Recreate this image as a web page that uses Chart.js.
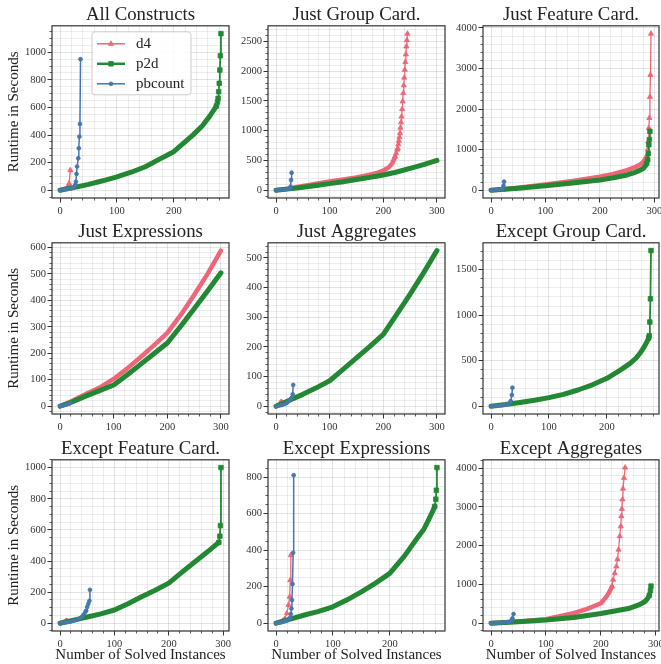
<!DOCTYPE html>
<html>
<head>
<meta charset="utf-8">
<script src="https://cdn.jsdelivr.net/npm/chart.js@4.4.1/dist/chart.umd.min.js"></script>
<style>
  body { margin: 0; background: #fff; }
  #fig { position: relative; width: 661px; height: 664px; overflow: hidden; background: #fff; }
  #fig canvas { position: absolute; }
</style>
</head>
<body>
<div id="fig"></div>
<script>
// ---- data: [solved instances, runtime in s] ----
const solvers = ['d4', 'p2d', 'pbcount'];
const titles = ['All Constructs', 'Just Group Card.', 'Just Feature Card.',
                'Just Expressions', 'Just Aggregates', 'Except Group Card.',
                'Except Feature Card.', 'Except Expressions', 'Except Aggregates'];
const yMajor = [200, 500, 1000, 100, 100, 500, 200, 200, 1000];
const yMinor = [50, 100, 200, 20, 20, 100, 50, 50, 200];
const xMajor = 100;
const xMinor = 20;

const allD4 = [[0, 0], [5, 4], [10, 10], [13, 17], [15, 28], [16, 49], [18, 145]];
const allP2d = [[0, 0], [10, 8], [20, 16], [30, 24], [50, 42], [75, 68], [100, 97], [125, 130], [150, 170], [175, 225], [200, 279], [234, 401], [250, 465], [263, 535], [270, 578], [275, 611], [277, 640], [278, 666], [279, 714], [280, 775], [281, 871], [282, 975], [283, 1135]];
const allPb = [[0, 0], [5, 3], [10, 6], [15, 9], [20, 13], [24, 20], [26, 30], [27, 40], [28, 62], [29, 118], [30, 171], [32, 231], [33, 304], [34, 388], [35, 480], [36, 950]];

const gcD4 = [[0, 0], [25, 30], [50, 70], [75, 110], [100, 148], [125, 180], [150, 215], [175, 260], [190, 295], [200, 330], [205, 355], [210, 385], [214, 420], [217, 460], [220, 520], [222, 563], [224, 620], [226, 680], [227, 705], [228, 770], [229, 830], [230, 890], [231, 957], [232, 1050], [233, 1140], [234, 1236], [235, 1360], [236, 1490], [237, 1630], [238, 1760], [239, 1890], [240, 2022], [241, 2150], [242, 2280], [243, 2414], [244, 2520], [245, 2630]];
const gcP2d = [[0, 0], [25, 22], [50, 48], [75, 78], [100, 110], [125, 142], [150, 178], [175, 215], [200, 255], [225, 305], [250, 365], [275, 430], [300, 500]];
const gcPb = [[0, 0], [10, 5], [20, 15], [26, 28], [27, 60], [28, 172], [29, 294]];

const fcD4 = [[0, 0], [25, 25], [50, 60], [100, 140], [150, 225], [200, 330], [225, 400], [250, 495], [265, 570], [275, 640], [280, 700], [284, 780], [286, 850], [288, 1000], [289, 1200], [290, 1530], [291, 1780], [292, 2300], [293, 2840], [294, 3860]];
const fcP2d = [[0, 0], [25, 20], [50, 45], [100, 107], [150, 175], [200, 250], [225, 305], [250, 375], [265, 440], [275, 500], [280, 540], [284, 600], [286, 660], [288, 750], [289, 900], [290, 1120], [291, 1250], [292, 1450]];
const fcPb = [[0, 0], [10, 8], [18, 20], [21, 40], [23, 110], [24, 210]];

const jeD4 = [[0, 0], [20, 18], [50, 48], [75, 72], [100, 103], [125, 142], [150, 185], [175, 230], [200, 277], [225, 345], [250, 420], [275, 500], [300, 588]];
const jeP2d = [[0, 0], [20, 14], [50, 40], [75, 60], [100, 80], [125, 118], [150, 158], [175, 198], [200, 239], [225, 302], [250, 368], [275, 435], [300, 504]];
const jePb = [[0, 0], [10, 5], [20, 12]];

const jaD4 = [[0, 0], [4, 4], [8, 9], [10, 16]];
const jaP2d = [[0, 0], [25, 20], [50, 40], [75, 62], [100, 86], [125, 124], [150, 163], [175, 202], [200, 242], [225, 310], [250, 378], [275, 450], [300, 525]];
const jaPb = [[0, 0], [10, 3], [20, 10], [29, 28], [31, 40], [32, 72]];

const egcD4 = [];
const egcP2d = [[0, 0], [25, 18], [50, 40], [75, 65], [100, 94], [125, 130], [150, 178], [175, 235], [200, 307], [225, 405], [240, 470], [250, 527], [258, 590], [265, 660], [270, 720], [272, 750], [273, 775], [274, 925], [275, 1180], [276, 1710]];
const egcPb = [[0, 0], [10, 4], [20, 10], [28, 20], [32, 32], [34, 55], [36, 123], [37, 204]];

const efcD4 = [[0, 0], [5, 5], [10, 12], [12, 20]];
const efcP2d = [[0, 0], [25, 20], [50, 40], [75, 60], [100, 85], [125, 125], [150, 170], [175, 212], [200, 258], [225, 330], [250, 400], [275, 470], [292, 520], [294, 560], [295, 628], [296, 1001]];
const efcPb = [[0, 0], [10, 4], [20, 10], [30, 20], [36, 30], [40, 42], [45, 63], [48, 80], [50, 105], [52, 125], [54, 144], [55, 215]];

const eeD4 = [[0, 0], [10, 8], [15, 22], [19, 54], [22, 100], [24, 145], [25, 236], [26, 373]];
const eeP2d = [[0, 0], [25, 22], [50, 45], [75, 65], [100, 90], [125, 128], [150, 172], [175, 220], [200, 273], [225, 365], [250, 474], [260, 515], [268, 565], [275, 610], [279, 640], [281, 680], [282, 729], [283, 853]];
const eePb = [[0, 0], [10, 5], [20, 15], [25, 30], [26, 50], [27, 80], [28, 127], [29, 215], [30, 386], [31, 811]];

const eaD4 = [[0, 0], [50, 45], [100, 101], [150, 257], [175, 370], [200, 516], [210, 687], [215, 800], [220, 946], [222, 1120], [225, 1290], [228, 1465], [230, 1650], [232, 1898], [234, 2243], [236, 2500], [237, 2761], [238, 2950], [239, 3194], [240, 3472], [242, 3750], [244, 4016]];
const eaP2d = [[0, 0], [50, 40], [100, 83], [150, 150], [200, 250], [250, 379], [270, 480], [280, 560], [285, 640], [288, 720], [290, 840], [291, 957]];
const eaPb = [[0, 0], [20, 15], [35, 40], [38, 80], [39, 127], [41, 239]];

const d4Runs = [allD4, gcD4, fcD4, jeD4, jaD4, egcD4, efcD4, eeD4, eaD4];
const p2dRuns = [allP2d, gcP2d, fcP2d, jeP2d, jaP2d, egcP2d, efcP2d, eeP2d, eaP2d];
const pbRuns = [allPb, gcPb, fcPb, jePb, jaPb, egcPb, efcPb, eePb, eaPb];

// ---- look ----
const colors = ['#EE6677', '#228833', '#4477AA'];
const markers = ['triangle', 'rect', 'circle'];
const markerSize = [3, 3.2, 1.9];
const bandWidth = [4.5, 5, 4];   // dense markers make the flat parts look thick
const thinWidth = [1.3, 1.8, 1.5];
const serif = "'Liberation Serif', 'DejaVu Serif', serif";
const ink = '#333333';

// panel boxes (plot area) on the page
const colLeft = [52, 268, 483];
const colWidth = [177, 177, 176];
const rowTop = [26, 243, 460];
const rowHeight = [172, 171, 171];
const YW = 45, TH = 21, RP = 14;
const XH = [20, 20, 32];

const fig = document.getElementById('fig');

function drawMarker(ctx, style, x, y, r) {
    ctx.beginPath();
    if (style === 'rect') {
        const s = r * Math.SQRT1_2;
        ctx.rect(x - s, y - s, 2 * s, 2 * s);
    } else if (style === 'triangle') {
        ctx.moveTo(x, y - r);
        ctx.lineTo(x + r * 0.866, y + r * 0.5);
        ctx.lineTo(x - r * 0.866, y + r * 0.5);
        ctx.closePath();
    } else {
        ctx.arc(x, y, r, 0, 2 * Math.PI);
    }
    ctx.fill();
    ctx.stroke();
}

// tick values at multiples of step inside the axis range
function multiples(min, max, step) {
    const out = [];
    for (let v = Math.ceil(min / step) * step; v <= max + 1e-9; v += step) {
        out.push({ value: Math.round(v * 1000) / 1000 });
    }
    return out;
}

// a segment counts as steep when it rises much faster than it runs on screen
function isSteep(p0x, p0y, p1x, p1y) {
    return Math.abs(p1y - p0y) > 2.5 * Math.abs(p1x - p0x);
}

// matplotlib-like axes frame
const framePlugin = {
    id: 'frame',
    afterDatasetsDraw(chart) {
        const { ctx, chartArea: a } = chart;
        ctx.save();
        ctx.strokeStyle = ink;
        ctx.lineWidth = 1.2;
        ctx.strokeRect(a.left, a.top, a.right - a.left, a.bottom - a.top);
        ctx.restore();
    }
};

// legend box inside the first panel
const legendPlugin = {
    id: 'boxLegend',
    afterDraw(chart) {
        const { ctx, chartArea: a } = chart;
        const x0 = a.left + 40, y0 = a.top + 6, w = 99, h = 63;
        ctx.save();
        ctx.beginPath();
        ctx.roundRect(x0, y0, w, h, 3);
        ctx.fillStyle = 'rgba(255,255,255,0.85)';
        ctx.fill();
        ctx.strokeStyle = '#cccccc';
        ctx.lineWidth = 1;
        ctx.stroke();
        const legendWidth = [1.5, 2.5, 1.5];
        solvers.forEach((name, k) => {
            const y = y0 + 12 + k * 20;
            ctx.strokeStyle = colors[k];
            ctx.lineWidth = legendWidth[k];
            ctx.beginPath();
            ctx.moveTo(x0 + 5, y);
            ctx.lineTo(x0 + 33, y);
            ctx.stroke();
            ctx.fillStyle = colors[k];
            ctx.lineWidth = 0.8;
            drawMarker(ctx, markers[k], x0 + 19, y, markerSize[k]);
            ctx.fillStyle = '#222';
            ctx.font = '15px ' + serif;
            ctx.textBaseline = 'middle';
            ctx.fillText(name, x0 + 44, y);
        });
        ctx.restore();
    }
};

function buildPanel(i) {
    const row = Math.floor(i / 3), col = i % 3;
    const canvas = document.createElement('canvas');
    canvas.width = YW + colWidth[col] + RP;
    canvas.height = TH + rowHeight[row] + XH[row];
    canvas.style.left = (colLeft[col] - YW) + 'px';
    canvas.style.top = (rowTop[row] - TH) + 'px';
    fig.appendChild(canvas);

    const runs = [d4Runs[i], p2dRuns[i], pbRuns[i]];
    const pts = runs.flat();
    const xMax = Math.max(...pts.map(p => p[0]));
    const yMax = Math.max(...pts.map(p => p[1]));

    const datasets = runs.map((run, k) => ({
        label: solvers[k],
        data: run.map(p => ({ x: p[0], y: p[1] })),
        order: 3 - k,
        borderColor: colors[k],
        backgroundColor: colors[k],
        pointStyle: markers[k],
        pointRadius: c => {
            const d = c.dataset.data, j = c.dataIndex;
            const sx = c.chart.scales.x, sy = c.chart.scales.y;
            const px = q => sx.getPixelForValue(q.x), py = q => sy.getPixelForValue(q.y);
            const before = j > 0 && isSteep(px(d[j - 1]), py(d[j - 1]), px(d[j]), py(d[j]));
            const after = j < d.length - 1 && isSteep(px(d[j]), py(d[j]), px(d[j + 1]), py(d[j + 1]));
            return before || after ? markerSize[k] : 0;
        },
        pointBorderWidth: 0.8,
        pointBorderColor: colors[k],
        pointBackgroundColor: colors[k],
        tension: 0,
        borderJoinStyle: 'round',
        borderCapStyle: 'round',
        borderWidth: thinWidth[k],
        segment: {
            borderWidth: c => isSteep(c.p0.x, c.p0.y, c.p1.x, c.p1.y) ? thinWidth[k] : bandWidth[k]
        }
    }));

    const tickFont = { family: serif, size: 10.5 };
    const majorGrid = { color: 'rgba(0,0,0,0.14)', lineWidth: 0.8, tickLength: 4.5, tickColor: ink, tickWidth: 1, tickBorderDash: [] };
    const onMajor = (v, step) => Math.abs(v / step - Math.round(v / step)) < 1e-6;
    const minorGrid = step => ({
        color: c => (onMajor(c.tick.value, step) ? 'rgba(0,0,0,0)' : 'rgba(0,0,0,0.09)'),
        lineWidth: 0.8,
        borderDash: [1, 2],
        tickLength: 2.5,
        tickWidth: 0.8,
        tickBorderDash: [],
        tickColor: c => (onMajor(c.tick.value, step) ? 'rgba(0,0,0,0)' : ink)
    });
    const xRange = { min: -0.05 * xMax, max: 1.05 * xMax };
    const yRange = { min: -0.05 * yMax, max: 1.05 * yMax };

    new Chart(canvas, {
        type: 'line',
        data: { datasets },
        plugins: i === 0 ? [framePlugin, legendPlugin] : [framePlugin],
        options: {
            responsive: false,
            animation: false,
            events: [],
            layout: { padding: { left: 0, top: 0, right: RP, bottom: 0 } },
            plugins: {
                legend: { display: false },
                tooltip: { enabled: false },
                title: {
                    display: true,
                    text: titles[i],
                    fullSize: false,
                    color: '#222',
                    font: { family: serif, size: 18.8, weight: 'normal', lineHeight: 1 },
                    padding: { top: 1, bottom: 1 }
                }
            },
            scales: {
                x: {
                    type: 'linear', position: 'bottom', weight: 0, bounds: 'data', ...xRange,
                    border: { display: false },
                    grid: majorGrid,
                    ticks: { autoSkip: false, maxRotation: 0, padding: 2, color: ink, font: tickFont,
                             callback: v => String(v) },
                    afterBuildTicks: s => { s.ticks = multiples(xRange.min, xRange.max, xMajor); },
                    title: { display: row === 2, text: 'Number of Solved Instances', color: '#222',
                             font: { family: serif, size: 15, lineHeight: 1 }, padding: { top: 0, bottom: 0 } },
                    afterFit: s => { s.height = XH[row]; s.paddingLeft = 0; s.paddingRight = 0; }
                },
                xm: {
                    type: 'linear', axis: 'x', position: 'bottom', weight: -1, bounds: 'data', ...xRange,
                    border: { display: false },
                    grid: minorGrid(xMajor),
                    ticks: { autoSkip: false, display: false },
                    afterBuildTicks: s => { s.ticks = multiples(xRange.min, xRange.max, xMinor); },
                    afterFit: s => { s.height = 0; s.paddingLeft = 0; s.paddingRight = 0; }
                },
                y: {
                    type: 'linear', position: 'left', weight: 0, bounds: 'data', ...yRange,
                    border: { display: false },
                    grid: majorGrid,
                    ticks: { autoSkip: false, padding: 1.5, color: ink, font: tickFont,
                             callback: v => String(v) },
                    afterBuildTicks: s => { s.ticks = multiples(yRange.min, yRange.max, yMajor[i]); },
                    title: { display: col === 0, text: 'Runtime in Seconds', color: '#222',
                             font: { family: serif, size: 15, lineHeight: 1 }, padding: { top: 0, bottom: 0 } },
                    afterFit: s => { s.width = YW; s.paddingTop = 0; s.paddingBottom = 0; }
                },
                ym: {
                    type: 'linear', axis: 'y', position: 'left', weight: -1, bounds: 'data', ...yRange,
                    border: { display: false },
                    grid: minorGrid(yMajor[i]),
                    ticks: { autoSkip: false, display: false },
                    afterBuildTicks: s => { s.ticks = multiples(yRange.min, yRange.max, yMinor[i]); },
                    afterFit: s => { s.width = 0; s.paddingTop = 0; s.paddingBottom = 0; }
                }
            }
        }
    });
}

titles.forEach((t, i) => buildPanel(i));
</script>
</body>
</html>
